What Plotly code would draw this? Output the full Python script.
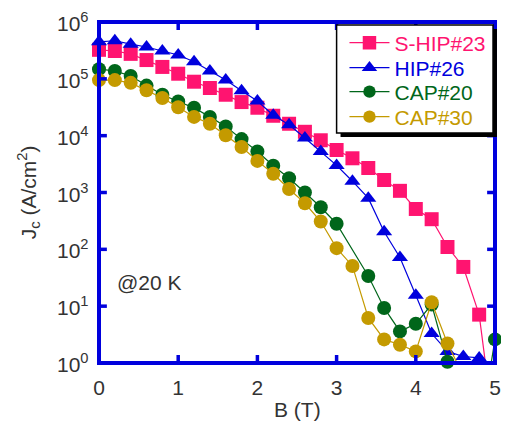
import math
import plotly.graph_objects as go

# Magnetic field B (T)
B = [0.0, 0.2, 0.4, 0.6, 0.8, 1.0, 1.2, 1.4, 1.6, 1.8, 2.0, 2.2, 2.4,
     2.6, 2.8, 3.0, 3.2, 3.4, 3.6, 3.8, 4.0, 4.2, 4.4, 4.6, 4.8, 5.0]

# Jc (A/cm^2) for each sample
s_hip23 = [3.24e5, 3.09e5, 2.75e5, 2.14e5, 1.62e5, 1.23e5, 8.9e4, 6.9e4, 5.25e4,
           3.9e4, 3.1e4, 2.24e4, 1.62e4, 1.17e4, 8.3e3, 5.6e3, 4.0e3, 2.7e3,
           1.66e3, 1.07e3, 513, 339, 110, 49, 7.1, 0.05]
hip26 = [4.47e5, 4.68e5, 4.07e5, 3.63e5, 3.09e5, 2.63e5, 2.0e5, 1.38e5, 9.5e4,
         6.2e4, 4.07e4, 2.29e4, 1.55e4, 9.1e3, 5.25e3, 3.0e3, 1.58e3, 794,
         204, 72, 15.5, 3.3, 1.6, 1.3, 1.23, 0.8]
cap20 = [1.48e5, 1.38e5, 1.12e5, 7.6e4, 5.25e4, 3.98e4, 3.09e4, 2.14e4, 1.45e4,
         8.7e3, 5.25e3, 2.95e3, 1.78e3, 1.0e3, 550, 282, None, 34, 9.3, 3.6,
         4.9, 10.7, 1.05, 0.3, 0.05, 2.6]
cap30 = [9.5e4, 9.5e4, 8.5e4, 6.3e4, 4.6e4, 3.16e4, 2.14e4, 1.62e4, 1.02e4,
         6.3e3, 3.6e3, 2.14e3, 1.15e3, 646, 309, 105, 51, 6.2, 2.6, 2.1, 1.6,
         11.7, 2.2, 0.6, None, None]

names = ["S-HIP#23", "HIP#26", "CAP#20", "CAP#30"]
series = [s_hip23, hip26, cap20, cap30]
colors = ["#FF1470", "#0000DD", "#00661A", "#C49A00"]
symbols = ["square", "triangle-up", "circle", "circle"]
msizes = [14, 14, 14, 14]

x_ticks = [0, 1, 2, 3, 4, 5]
y_ticks = [1, 10, 100, 1e3, 1e4, 1e5, 1e6]
y_ticktext = ["10<sup>%d</sup>" % i for i in range(7)]
Y_RANGE = [0, 6]

AXIS = "#0000DD"
TXT = "#333333"
FONT = "Liberation Sans, Arial, sans-serif"

# page body has an 8px margin: the figure is laid out for the remaining area
OFF = 8
W, H = 509 - OFF, 427 - OFF
L, R, T, Bm = 98.5 - OFF, 8, 22 - OFF, 427 - 363
pw, ph = W - L - R, H - T - Bm


def px(xp):
    return (xp - OFF - L) / pw


def py(yp):
    return (H - Bm - (yp - OFF)) / ph


legend_ids = ["legend", "legend2", "legend3", "legend4"]
legend_rows = [43, 68, 92, 117]

fig = go.Figure()
for nm, ys, c, sym, ms, lg in zip(names, series, colors, symbols, msizes, legend_ids):
    sizes = [ms if (v is not None and v >= 1) else 0 for v in ys]
    fig.add_trace(go.Scatter(
        x=B, y=ys, mode="lines+markers", name=nm, legend=lg,
        line=dict(color=c, width=1.2),
        marker=dict(symbol=sym, size=sizes, color=c, opacity=1,
                    line=dict(width=0)),
        cliponaxis=False, connectgaps=True,
    ))

shapes = []
# plot frame (axis lines)
shapes.append(dict(type="rect", xref="paper", yref="paper", x0=0, x1=1, y0=0, y1=1,
                   line=dict(color=AXIS, width=4), fillcolor="rgba(0,0,0,0)",
                   layer="above"))
TL = 8  # tick length, px
for xv in x_ticks:
    shapes.append(dict(type="line", xref="x", yref="paper", x0=xv, x1=xv,
                       y0=0, y1=TL / ph, line=dict(color=AXIS, width=3.5), layer="above"))
    shapes.append(dict(type="line", xref="x", yref="paper", x0=xv, x1=xv,
                       y0=1 - TL / ph, y1=1, line=dict(color=AXIS, width=3.5), layer="above"))
for yv in y_ticks:
    yf = (math.log10(yv) - Y_RANGE[0]) / (Y_RANGE[1] - Y_RANGE[0])
    shapes.append(dict(type="line", xref="paper", yref="paper", x0=0, x1=TL / pw,
                       y0=yf, y1=yf, line=dict(color=AXIS, width=3.5), layer="above"))
    shapes.append(dict(type="line", xref="paper", yref="paper", x0=1 - TL / pw, x1=1,
                       y0=yf, y1=yf, line=dict(color=AXIS, width=3.5), layer="above"))
# legend box with drop shadow
shapes.append(dict(type="rect", xref="paper", yref="paper",
                   x0=px(344), x1=px(503), y0=py(137), y1=py(29),
                   fillcolor="black", line=dict(width=0), layer="above"))
shapes.append(dict(type="rect", xref="paper", yref="paper",
                   x0=px(340), x1=px(499), y0=py(133), y1=py(25),
                   fillcolor="white", line=dict(color="black", width=1.5), layer="above"))

# y tick labels (log axis: annotation y is given as log10 of the value)
for yv, txt in zip(y_ticks, y_ticktext):
    fig.add_annotation(x=px(90), y=math.log10(yv), xref="paper", yref="y",
                       text=txt, showarrow=False, xanchor="right", yanchor="middle",
                       font=dict(family=FONT, size=21, color=TXT))

fig.add_annotation(x=0.2, y=1.41, xref="x", yref="y", text="@20 K",
                   showarrow=False, xanchor="left", yanchor="middle",
                   font=dict(family=FONT, size=21, color=TXT))
fig.add_annotation(x=px(27), y=0.5, xref="paper", yref="paper",
                   text="J<sub>c</sub> (A/cm<sup>2</sup>)", textangle=-90,
                   showarrow=False, xanchor="center", yanchor="middle",
                   font=dict(family=FONT, size=21, color=TXT))
fig.add_annotation(x=0.5, y=py(410), xref="paper", yref="paper",
                   text="B (T)", showarrow=False, xanchor="center", yanchor="middle",
                   font=dict(family=FONT, size=21, color=TXT))

legends = {}
for lg, row, c in zip(legend_ids, legend_rows, colors):
    legends[lg] = dict(x=px(348), y=py(row), xanchor="left", yanchor="middle",
                       bgcolor="rgba(0,0,0,0)", borderwidth=0, itemwidth=40,
                       font=dict(family=FONT, size=21, color=c))

fig.update_layout(
    width=W, height=H,
    margin=dict(l=L, r=R, t=T, b=Bm),
    paper_bgcolor="white", plot_bgcolor="white",
    font=dict(family=FONT, size=21, color=TXT),
    showlegend=True,
    shapes=shapes,
    xaxis=dict(range=[0, 5], tickvals=x_ticks, showgrid=False, zeroline=False,
               showline=False, ticks="",
               tickfont=dict(family=FONT, size=21, color=TXT),
               ticklabelstandoff=10),
    yaxis=dict(type="log", range=Y_RANGE, tickvals=y_ticks,
               showticklabels=False,
               showgrid=False, zeroline=False, showline=False, ticks=""),
    **legends,
)

fig.write_html("out.html")
